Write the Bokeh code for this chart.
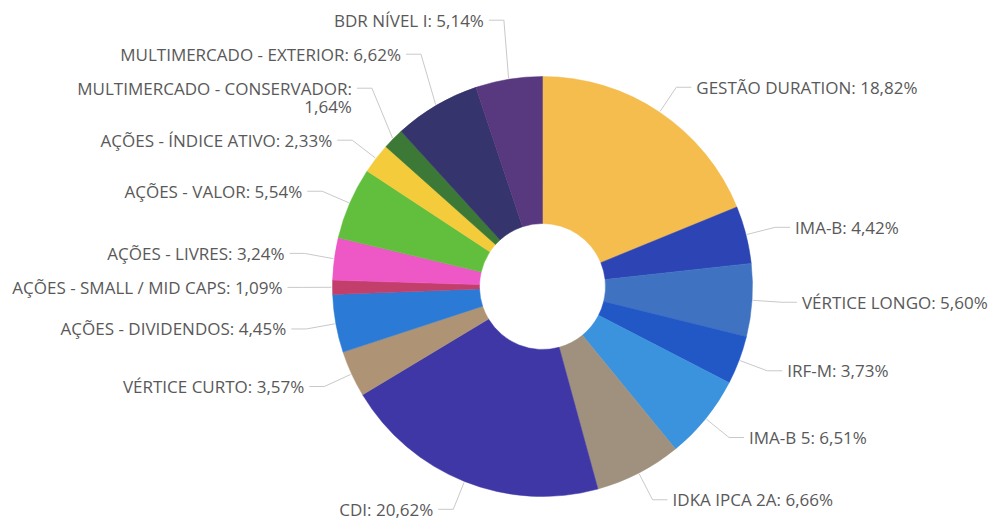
import math
from bokeh.plotting import figure
from bokeh.models import ColumnDataSource, Range1d
from bokeh.core.properties import value
from bokeh.embed import file_html
from bokeh.resources import INLINE

# ---- data (clockwise from 12 o'clock) ----
names = [
    "GESTÃO DURATION", "IMA-B", "VÉRTICE LONGO", "IRF-M", "IMA-B 5",
    "IDKA IPCA 2A", "CDI", "VÉRTICE CURTO", "AÇÕES - DIVIDENDOS",
    "AÇÕES - SMALL / MID CAPS", "AÇÕES - LIVRES", "AÇÕES - VALOR",
    "AÇÕES - ÍNDICE ATIVO", "MULTIMERCADO - CONSERVADOR",
    "MULTIMERCADO - EXTERIOR", "BDR NÍVEL I",
]
values = [18.82, 4.42, 5.60, 3.73, 6.51, 6.66, 20.62, 3.57, 4.45,
          1.09, 3.24, 5.54, 2.33, 1.64, 6.62, 5.14]
colors = [
    "#F5BC4E", "#2D44B5", "#3F73C2", "#2257C6", "#3B93DE",
    "#9F917E", "#3F37A6", "#AE9474", "#2A7AD6", "#C23E6B",
    "#EE58C6", "#62BF3E", "#F4CB3A", "#3D7936", "#36346D", "#58387E",
]

# ---- layout / style ----
W, H = 990, 520
CX, CY = 542, 234          # donut centre (data units = pixels, y up)
R_OUT, R_IN = 210, 63
R_LABEL = 240              # elbow radius of leader lines
LINE_H = 18
GAP = 16
MAX_CHARS = 32
FONT = "Open Sans"
FONT_SIZE = "17px"
TEXT_COLOR = "#595959"
LEADER_COLOR = "#c9c9c9"

total = sum(values)
starts, ends, mids = [], [], []
cum = 0.0
for v in values:
    a0 = cum / total * 2 * math.pi
    cum += v
    a1 = cum / total * 2 * math.pi
    starts.append(a0)
    ends.append(a1)
    mids.append((a0 + a1) / 2)

wedge_src = ColumnDataSource(dict(
    start=[math.pi / 2 - e for e in ends],
    end=[math.pi / 2 - s for s in starts],
    color=colors,
))

# labels
labels = []
for n, v, th in zip(names, values, mids):
    pct = f"{v:.2f}".replace(".", ",") + "%"
    txt = f"{n}: {pct}"
    lines = [txt] if len(txt) <= MAX_CHARS else [n + ":", pct]
    side = 1 if math.sin(th) >= 0 else -1
    labels.append(dict(th=th, lines=lines, side=side,
                       y=CY + R_LABEL * math.cos(th),
                       ex=CX + R_LABEL * math.sin(th)))

# collision avoidance per side: push labels upward from the bottom
for side in (1, -1):
    group = sorted([l for l in labels if l["side"] == side], key=lambda l: l["y"])
    prev_top = None
    for l in group:
        n = len(l["lines"])
        if prev_top is not None:
            min_y = prev_top + GAP + LINE_H / 2 + (n - 1) * LINE_H
            l["y"] = max(l["y"], min_y)
        prev_top = l["y"] + LINE_H / 2

lx, ly = [], []
tx, ty, tt, talign = [], [], [], []
for l in labels:
    th = l["th"]
    sx = CX + (R_OUT + 1) * math.sin(th)
    sy = CY + (R_OUT + 1) * math.cos(th)
    ex, ey = l["ex"], l["y"]
    hx = ex + 15 * l["side"]
    lx.append([sx, ex, hx])
    ly.append([sy, ey, ey])
    for i, line in enumerate(l["lines"]):
        tx.append(ex + 20 * l["side"])
        ty.append(ey - i * LINE_H)
        tt.append(line)
        talign.append("left" if l["side"] == 1 else "right")

p = figure(width=W, height=H, output_backend="svg", toolbar_location=None,
           x_range=Range1d(0, W), y_range=Range1d(0, H),
           min_border=0, outline_line_color=None)
p.axis.visible = False
p.grid.visible = False
p.background_fill_color = "white"
p.border_fill_color = "white"

p.annular_wedge(x=CX, y=CY, inner_radius=R_IN, outer_radius=R_OUT,
                start_angle="start", end_angle="end", direction="anticlock",
                fill_color="color", line_color="color", line_width=0.5,
                source=wedge_src)

p.multi_line(xs=lx, ys=ly, line_color=LEADER_COLOR, line_width=1)

text_src = ColumnDataSource(dict(x=tx, y=ty, text=tt, align=talign))
p.text(x="x", y="y", text="text", text_align="align", text_baseline="middle",
       text_font=value(FONT), text_font_size=FONT_SIZE, text_color=TEXT_COLOR,
       source=text_src)

open("out.html", "w").write(file_html(p, INLINE))
